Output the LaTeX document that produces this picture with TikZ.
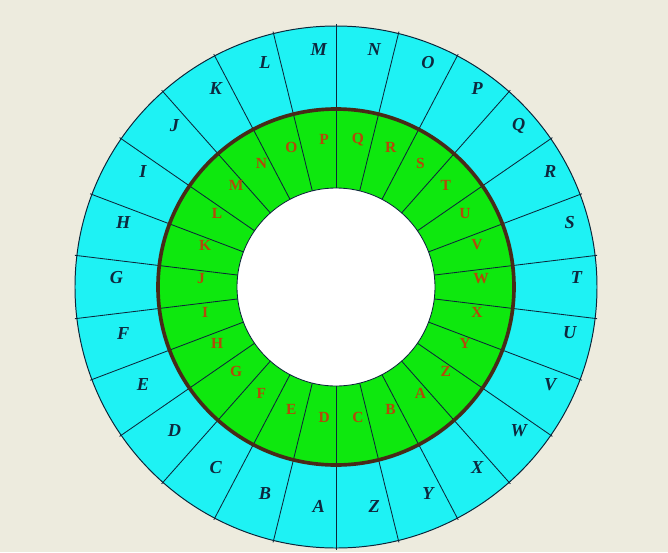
\documentclass[tikz,border=0pt]{standalone}
\usepackage{fontspec}
\setmainfont{Liberation Serif}
\definecolor{paper}{RGB}{237,235,222}
\definecolor{ringcyan}{RGB}{30,242,244}
\definecolor{ringgreen}{RGB}{14,232,14}
\definecolor{rim}{RGB}{72,42,24}
\definecolor{spoke}{RGB}{12,38,58}
\definecolor{outink}{RGB}{14,40,62}
\definecolor{ininkk}{RGB}{180,72,10}
\begin{document}
\begin{tikzpicture}
[scale=0.025, outer letter/.style={text=outink,font=\fontsize{13}{13}\selectfont\bfseries\itshape,inner sep=0pt},
inner letter/.style={text=ininkk,font=\fontsize{11}{11}\selectfont\bfseries,inner sep=0pt}]
\useasboundingbox (-336,-265) rectangle (332,287);
\fill[paper] (-336,-265) rectangle (332,287);

% rings
\fill[ringcyan] (0,0) circle (261);
\fill[ringgreen] (0,0) circle (178);
\fill[white] (0,0) circle (99);
\foreach \k in {0,...,25}
  \draw[spoke, line width=0.6pt] (90+\k*13.8462:99) -- (90+\k*13.8462:263);
\draw[spoke, line width=0.7pt] (0,0) circle (261);
\draw[spoke, line width=0.6pt] (0,0) circle (99);
\draw[rim, line width=2.6pt] (0,0) circle (178);

% outer alphabet
\begin{scope}[shift={(10.5,9)}]
\node[outer letter] (oA) at (263.08:230) {A};
\node[outer letter] (oB) at (249.23:230) {B};
\node[outer letter] (oC) at (235.38:230) {C};
\node[outer letter] (oD) at (221.54:230) {D};
\node[outer letter] (oE) at (207.69:230) {E};
\node[outer letter] (oF) at (193.85:230) {F};
\node[outer letter] (oG) at (180:230) {G};
\node[outer letter] (oH) at (166.15:230) {H};
\node[outer letter] (oI) at (152.31:230) {I};
\node[outer letter] (oJ) at (138.46:230) {J};
\node[outer letter] (oK) at (124.62:230) {K};
\node[outer letter] (oL) at (110.77:230) {L};
\node[outer letter] (oM) at (96.92:230) {M};
\node[outer letter] (oN) at (83.08:230) {N};
\node[outer letter] (oO) at (69.23:230) {O};
\node[outer letter] (oP) at (55.38:230) {P};
\node[outer letter] (oQ) at (41.54:230) {Q};
\node[outer letter] (oR) at (27.69:230) {R};
\node[outer letter] (oS) at (13.85:230) {S};
\node[outer letter] (oT) at (0:230) {T};
\node[outer letter] (oU) at (-13.85:230) {U};
\node[outer letter] (oV) at (-27.69:230) {V};
\node[outer letter] (oW) at (-41.54:230) {W};
\node[outer letter] (oX) at (-55.38:230) {X};
\node[outer letter] (oY) at (-69.23:230) {Y};
\node[outer letter] (oZ) at (-83.08:230) {Z};
\end{scope}

% inner alphabet, shifted by three
\begin{scope}[shift={(5,8.5)}]
\node[inner letter] (iD) at (263.08:140) {D};
\node[inner letter] (iE) at (249.23:140) {E};
\node[inner letter] (iF) at (235.38:140) {F};
\node[inner letter] (iG) at (221.54:140) {G};
\node[inner letter] (iH) at (207.69:140) {H};
\node[inner letter] (iI) at (193.85:140) {I};
\node[inner letter] (iJ) at (180:140) {J};
\node[inner letter] (iK) at (166.15:140) {K};
\node[inner letter] (iL) at (152.31:140) {L};
\node[inner letter] (iM) at (138.46:140) {M};
\node[inner letter] (iN) at (124.62:140) {N};
\node[inner letter] (iO) at (110.77:140) {O};
\node[inner letter] (iP) at (96.92:140) {P};
\node[inner letter] (iQ) at (83.08:140) {Q};
\node[inner letter] (iR) at (69.23:140) {R};
\node[inner letter] (iS) at (55.38:140) {S};
\node[inner letter] (iT) at (41.54:140) {T};
\node[inner letter] (iU) at (27.69:140) {U};
\node[inner letter] (iV) at (13.85:140) {V};
\node[inner letter] (iW) at (0:140) {W};
\node[inner letter] (iX) at (-13.85:140) {X};
\node[inner letter] (iY) at (-27.69:140) {Y};
\node[inner letter] (iZ) at (-41.54:140) {Z};
\node[inner letter] (iA) at (-55.38:140) {A};
\node[inner letter] (iB) at (-69.23:140) {B};
\node[inner letter] (iC) at (-83.08:140) {C};
\end{scope}
\end{tikzpicture}
\end{document}
